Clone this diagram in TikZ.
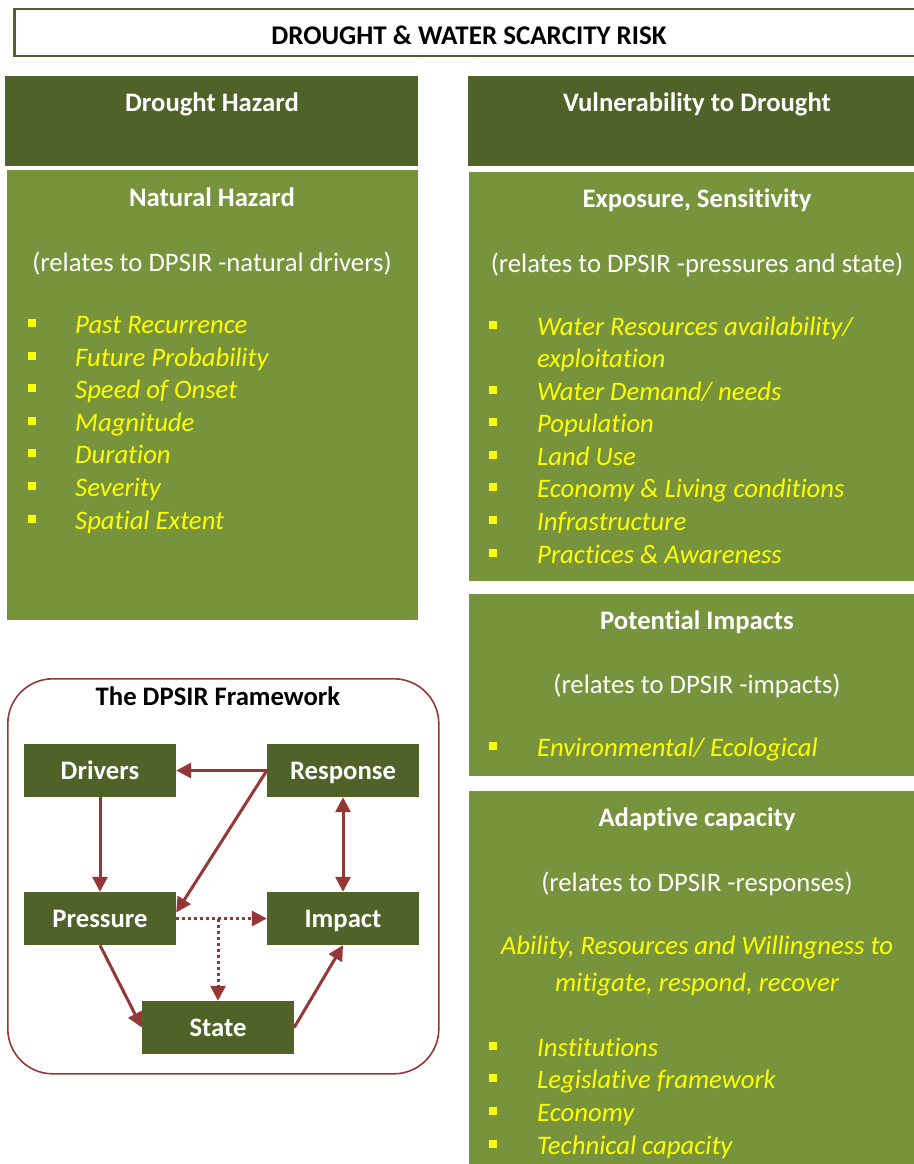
\documentclass[tikz,border=0pt]{standalone}
\usepackage{fontspec}
\setmainfont{Carlito}[Ligatures={NoCommon}]
\usetikzlibrary{arrows.meta,calc}
\definecolor{darkolive}{HTML}{4F6228}
\definecolor{olive}{HTML}{77933C}
\definecolor{brick}{HTML}{953735}
\definecolor{itemyellow}{HTML}{FFFF00}
\newcommand{\bodysize}{\fontsize{26.7}{32.6}\selectfont}
\tikzset{
  panel/.style={fill=olive, draw=none, inner sep=0, anchor=north west},
  header/.style={fill=darkolive, draw=none, inner sep=0, anchor=north west},
  txtbase/.style={inner sep=0, text height=17pt, text depth=0pt},
  headtxt/.style={txtbase, text=white, font=\bodysize\bfseries},
  bodytxt/.style={txtbase, text=white, font=\bodysize},
  itemtxt/.style={txtbase, text=itemyellow, font=\bodysize\itshape, anchor=west},
  ctritem/.style={txtbase, text=itemyellow, font=\bodysize\itshape},
  bulletsq/.style={fill=itemyellow, draw=none, minimum size=7.5pt, inner sep=0},
  dpsirbox/.style={fill=darkolive, text=white, font=\bodysize\bfseries,
    text height=17pt, text depth=0pt,
    minimum width=152pt, minimum height=53pt, inner sep=0},
  tip/.tip={Triangle[length=15pt,width=15pt]},
  flow/.style={draw=brick, line width=3pt, -tip},
  dotflow/.style={flow, dash pattern=on 3pt off 3pt},
}
\begin{document}
\begin{tikzpicture}[x=1pt, y=-1pt]
\useasboundingbox (0,0) rectangle (913,1164);

% ---- title bar
\node[draw=darkolive, line width=2.5pt, fill=white, inner sep=0, anchor=north west,
      minimum width=904pt, minimum height=47pt] (titlebox) at (13,8) {};
\node[txtbase, font=\fontsize{27}{32}\selectfont\bfseries] (title) at (469,36)
  {DROUGHT \& WATER SCARCITY RISK};

% ---- left column: hazard
\node[header, minimum width=413pt, minimum height=90pt] (hazhead) at (5,76) {};
\node[headtxt] (hazheadtxt) at (212,103) {Drought Hazard};
\node[panel, minimum width=411pt, minimum height=450pt] (hazpanel) at (7,170) {};
\node[headtxt] (nathaz) at (212,198) {Natural Hazard};
\node[bodytxt] (natrel) at (212,263) {(relates to DPSIR -natural drivers)};
\foreach \yy/\tt [count=\i] in {325/{Past Recurrence}, 358/{Future Probability},
    390/{Speed of Onset}, 423/{Magnitude}, 455/{Duration}, 488/{Severity}, 521/{Spatial Extent}}{
  \node[bulletsq] (hb\i) at (32,\yy-2) {};
  \node[itemtxt] (hi\i) at (75,\yy) {\tt};
}

% ---- right column: vulnerability
\node[header, minimum width=447pt, minimum height=90pt] (vulhead) at (468,76) {};
\node[headtxt] (vulheadtxt) at (697,103) {Vulnerability to Drought};

\node[panel, minimum width=446pt, minimum height=409pt] (exppanel) at (469,172) {};
\node[headtxt] (exptitle) at (697,199) {Exposure, Sensitivity};
\node[bodytxt] (exprel) at (697,264) {(relates to DPSIR -pressures and state)};
\foreach \yy/\tt [count=\i] in {327/{Water Resources availability/}, 392/{Water Demand/ needs},
    424/{Population}, 457/{Land Use}, 489/{Economy \& Living conditions},
    522/{Infrastructure}, 555/{Practices \& Awareness}}{
  \node[bulletsq] (eb\i) at (493,\yy-2) {};
  \node[itemtxt] (ei\i) at (537,\yy) {\tt};
}
\node[itemtxt] (ei1b) at (537,359) {exploitation};

\node[panel, minimum width=446pt, minimum height=182pt] (imppanel) at (469,594) {};
\node[headtxt] (imptitle) at (697,621) {Potential Impacts};
\node[bodytxt] (imprel) at (697,685) {(relates to DPSIR -impacts)};
\node[bulletsq] (ib1) at (493,746) {};
\node[itemtxt] (ii1) at (537,748) {Environmental/ Ecological};

\node[panel, minimum width=446pt, minimum height=375pt] (adppanel) at (469,791) {};
\node[headtxt] (adptitle) at (697,818) {Adaptive capacity};
\node[bodytxt] (adprel) at (697,883) {(relates to DPSIR -responses)};
\node[ctritem] (adpl1) at (697,946) {Ability, Resources and Willingness to};
\node[ctritem] (adpl2) at (697,983) {mitigate, respond, recover};
\foreach \yy/\tt [count=\i] in {1048/{Institutions}, 1080/{Legislative framework},
    1113/{Economy}, 1146/{Technical capacity}}{
  \node[bulletsq] (ab\i) at (493,\yy-2) {};
  \node[itemtxt] (ai\i) at (537,\yy) {\tt};
}

% ---- DPSIR framework
\node[draw=brick, line width=1.6pt, rounded corners=45pt, inner sep=0, anchor=north west,
      minimum width=431pt, minimum height=395pt] (frame) at (7,678) {};
\node[txtbase, font=\bodysize\bfseries] (frametitle) at (218,697)
  {The DPSIR Framework};

\node[dpsirbox] (drivers)  at (100,770.5)  {Drivers};
\node[dpsirbox] (response) at (343,770.5)  {Response};
\node[dpsirbox] (pressure) at (100,918.5)  {Pressure};
\node[dpsirbox] (impact)   at (343,918.5)  {Impact};
\node[dpsirbox] (state)    at (218,1027.5) {State};

\coordinate (split) at (pressure.east -| state.north);

\draw[flow] (response.west) -- (drivers.east);
\draw[flow] (response.west) -- ($(pressure.east)+(0,-6)$);
\draw[flow] (drivers.south) -- (pressure.north);
\draw[flow, tip-tip] (response.south) -- (impact.north);
\draw[dotflow] (pressure.east) -- (impact.west);
\draw[dotflow] (split) -- (state.north);
\draw[flow] (pressure.south) -- (state.west);
\draw[flow] (state.east) -- (impact.south);
\end{tikzpicture}
\end{document}
